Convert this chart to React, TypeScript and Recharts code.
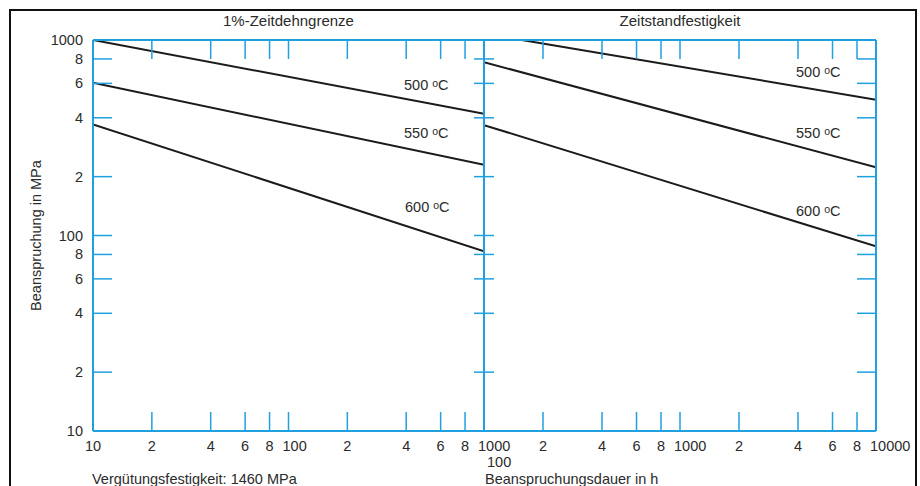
import { LineChart, Line, XAxis, YAxis } from "recharts";

const BLUE = "#1fa0df";
const INK = "#1b1b1b";
const TEXT = "#2b2b2b";
const FONT = '"Liberation Sans", Arial, Helvetica, sans-serif';

// 1%-Zeitdehngrenze, Beanspruchungsdauer 10 .. 1000 h
const dehnDomain = [10, 1000];
const dehnHours = [10, 1000];
const dehn500 = [1000, 420];
const dehn550 = [605, 230];
const dehn600 = [370, 83];

// Zeitstandfestigkeit, Beanspruchungsdauer 100 .. 10000 h
const standDomain = [100, 10000];
const standHours500 = [156, 10000];
const standHours = [100, 10000];
const stand500 = [1000, 495];
const stand550 = [770, 223];
const stand600 = [367, 88];

const stressDomain = [10, 1000];
const stressTicks = [10, 20, 40, 60, 80, 100, 200, 400, 600, 800, 1000];
const dehnTicks = [10, 20, 40, 60, 80, 100, 200, 400, 600, 800, 1000];
const standTicks = [100, 200, 400, 600, 800, 1000, 2000, 4000, 6000, 8000, 10000];

const temps = ["500", "550", "600"];

const toPoints = (xs: number[], ys: number[]) => xs.map((x, i) => ({ x, y: ys[i] }));

const isDecade = (v: number) => Math.abs(Math.log10(v) - Math.round(Math.log10(v))) < 1e-9;
const tickLabel = (v: number) =>
  isDecade(v) ? String(v) : String(Math.round(v / Math.pow(10, Math.floor(Math.log10(v)))));

const textProps = { fill: TEXT, fontFamily: FONT, fontSize: 14.5 };

function bottomTick(lo: number, hi: number, secondRowFirst: boolean) {
  return (p: any) => {
    const { x, y, payload } = p;
    const v = payload.value;
    const edge = v === lo || v === hi;
    const label = tickLabel(v);
    let tx = x;
    let ty = y + 20;
    let anchor = "middle";
    if (isDecade(v) && label.length >= 3) {
      anchor = "start";
      tx = x - 6;
    }
    if (secondRowFirst && v === lo) {
      anchor = "start";
      tx = x + 3;
      ty = y + 36;
    }
    return (
      <g>
        {!edge && <line x1={x} x2={x} y1={y} y2={y - 19} stroke={BLUE} strokeWidth={1.5} />}
        <text x={tx} y={ty} textAnchor={anchor} {...textProps}>
          {label}
        </text>
      </g>
    );
  };
}

function topTick(lo: number, hi: number) {
  return (p: any) => {
    const { x, y, payload } = p;
    const v = payload.value;
    if (v === lo || v === hi) return <g />;
    return <line x1={x} x2={x} y1={y} y2={y + 19} stroke={BLUE} strokeWidth={1.5} />;
  };
}

// len > 0 draws to the right of the axis, len < 0 to the left
function sideTick(len: number, withLabel: boolean) {
  return (p: any) => {
    const { x, y, payload } = p;
    const v = payload.value;
    const edge = v === stressDomain[0] || v === stressDomain[1];
    return (
      <g>
        {!edge && <line x1={x} x2={x + len} y1={y} y2={y} stroke={BLUE} strokeWidth={1.5} />}
        {withLabel && (
          <text x={x - 10} y={y + 5} textAnchor="end" {...textProps}>
            {tickLabel(v)}
          </text>
        )}
      </g>
    );
  };
}

const axisLine = { stroke: BLUE, strokeWidth: 2 };

function Panel({
  domain,
  ticks,
  series,
  leftWidth,
  rightWidth,
  leftTick,
  rightTick,
  secondRowFirst,
  width,
  extraRight,
  left,
}: any) {
  return (
    <div style={{ position: "absolute", left, top: 0 }}>
      <LineChart
        width={width + extraRight}
        height={486}
        margin={{ top: 0, right: extraRight, bottom: 0, left: 0 }}
      >
        <XAxis
          xAxisId="b"
          dataKey="x"
          type="number"
          scale="log"
          domain={domain}
          allowDataOverflow
          ticks={ticks}
          interval={0}
          height={55}
          tickSize={0}
          tickMargin={0}
          tickLine={false}
          axisLine={axisLine}
          tick={bottomTick(domain[0], domain[1], secondRowFirst)}
        />
        <XAxis
          xAxisId="t"
          orientation="top"
          dataKey="x"
          type="number"
          scale="log"
          domain={domain}
          allowDataOverflow
          ticks={ticks}
          interval={0}
          height={40}
          tickSize={0}
          tickMargin={0}
          tickLine={false}
          axisLine={axisLine}
          tick={topTick(domain[0], domain[1])}
        />
        <YAxis
          yAxisId="l"
          type="number"
          scale="log"
          domain={stressDomain}
          allowDataOverflow
          ticks={stressTicks}
          interval={0}
          width={leftWidth}
          tickSize={0}
          tickMargin={0}
          tickLine={false}
          axisLine={axisLine}
          tick={leftTick}
        />
        <YAxis
          yAxisId="r"
          orientation="right"
          type="number"
          scale="log"
          domain={stressDomain}
          allowDataOverflow
          ticks={stressTicks}
          interval={0}
          width={rightWidth}
          tickSize={0}
          tickMargin={0}
          tickLine={false}
          axisLine={axisLine}
          tick={rightTick}
        />
        {series.map((s: any, i: number) => (
          <Line
            key={i}
            xAxisId="b"
            yAxisId="l"
            data={s}
            dataKey="y"
            type="linear"
            stroke={INK}
            strokeWidth={2}
            dot={false}
            activeDot={false}
            isAnimationActive={false}
          />
        ))}
      </LineChart>
    </div>
  );
}

function Deg({ x, y, t }: { x: number; y: number; t: string }) {
  return (
    <text x={x} y={y} fill={TEXT} fontFamily={FONT} fontSize={14.5}>
      {t + " "}
      <tspan fontSize={10.5} dy={-3}>o</tspan>
      <tspan dy={3}>C</tspan>
    </text>
  );
}

export default function App() {
  return (
    <div
      style={{
        position: "absolute",
        left: 0,
        top: 0,
        width: 920,
        height: 486,
        overflow: "hidden",
        background: "#fff",
      }}
    >
      <div
        style={{
          position: "absolute",
          left: 9,
          top: 9,
          width: 908,
          height: 520,
          boxSizing: "border-box",
          border: "2px solid #111",
        }}
      />
      <Panel
        left={0}
        width={500}
        extraRight={40}
        domain={dehnDomain}
        ticks={dehnTicks}
        leftWidth={93}
        rightWidth={16}
        leftTick={sideTick(19, true)}
        rightTick={sideTick(-10, false)}
        secondRowFirst={false}
        series={[
          toPoints(dehnHours, dehn500),
          toPoints(dehnHours, dehn550),
          toPoints(dehnHours, dehn600),
        ]}
      />
      <Panel
        left={468}
        width={418}
        extraRight={34}
        domain={standDomain}
        ticks={standTicks}
        leftWidth={16}
        rightWidth={10}
        leftTick={sideTick(10, false)}
        rightTick={sideTick(-19, false)}
        secondRowFirst={true}
        series={[
          toPoints(standHours500, stand500),
          toPoints(standHours, stand550),
          toPoints(standHours, stand600),
        ]}
      />
      <svg
        width={920}
        height={486}
        style={{ position: "absolute", left: 0, top: 0, pointerEvents: "none" }}
      >
        <text x={288.5} y={26} textAnchor="middle" fill={TEXT} fontFamily={FONT} fontSize={15}>
          1%-Zeitdehngrenze
        </text>
        <text x={680} y={26} textAnchor="middle" fill={TEXT} fontFamily={FONT} fontSize={15}>
          Zeitstandfestigkeit
        </text>
        <text
          x={36}
          y={235.5}
          textAnchor="middle"
          dominantBaseline="central"
          transform="rotate(-90 36 235.5)"
          fill={TEXT}
          fontFamily={FONT}
          fontSize={14.5}
        >
          Beanspruchung in MPa
        </text>
        <text x={92} y={484} fill={TEXT} fontFamily={FONT} fontSize={14.5}>
          Vergütungsfestigkeit: 1460 MPa
        </text>
        <text x={485} y={484} fill={TEXT} fontFamily={FONT} fontSize={14.5}>
          Beanspruchungsdauer in h
        </text>
        <Deg x={404} y={90} t={temps[0]} />
        <Deg x={404} y={138} t={temps[1]} />
        <Deg x={405} y={212} t={temps[2]} />
        <Deg x={796} y={77} t={temps[0]} />
        <Deg x={796} y={138} t={temps[1]} />
        <Deg x={796} y={216} t={temps[2]} />
      </svg>
    </div>
  );
}
